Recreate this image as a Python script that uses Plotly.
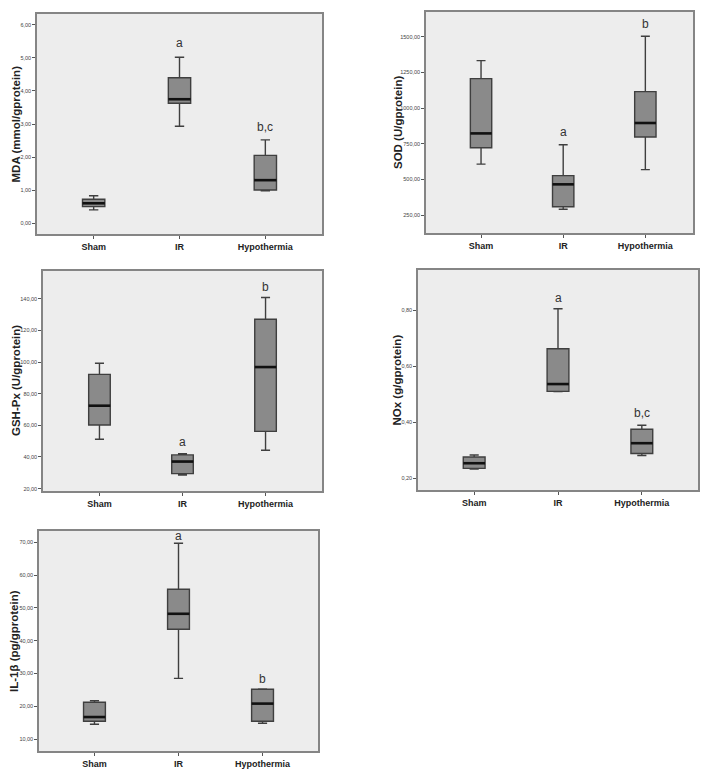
import plotly.graph_objects as go

# page body has an 8px margin; the figure is sized/offset to fit the 714x772 window
PAGE_W, PAGE_H = 714, 772
OFF = 8
W, H = PAGE_W - 2 * OFF, 762

categories = ["Sham", "IR", "Hypothermia"]

# ---- data ----
mda_low = [0.40, 2.93, 0.98]
mda_q1 = [0.50, 3.63, 1.00]
mda_med = [0.60, 3.75, 1.30]
mda_q3 = [0.72, 4.40, 2.05]
mda_high = [0.83, 5.02, 2.52]
mda_letters = ["", "a", "b,c"]
mda_letter_y = [None, 5.45, 2.90]

sod_low = [607, 290, 568]
sod_q1 = [722, 308, 797]
sod_med = [822, 465, 895]
sod_q3 = [1206, 526, 1115]
sod_high = [1332, 743, 1503]
sod_letters = ["", "a", "b"]
sod_letter_y = [None, 830, 1590]

gsh_low = [51.2, 28.6, 44.2]
gsh_q1 = [60.2, 29.5, 56.2]
gsh_med = [72.4, 37.1, 96.8]
gsh_q3 = [92.2, 41.3, 127.0]
gsh_high = [99.2, 42.1, 140.8]
gsh_letters = ["", "a", "b"]
gsh_letter_y = [None, 49.7, 147.6]

nox_low = [0.233, 0.509, 0.281]
nox_q1 = [0.235, 0.510, 0.288]
nox_med = [0.2535, 0.536, 0.325]
nox_q3 = [0.276, 0.662, 0.375]
nox_high = [0.283, 0.805, 0.389]
nox_letters = ["", "a", "b,c"]
nox_letter_y = [None, 0.844, 0.432]

il_low = [14.5, 28.5, 14.8]
il_q1 = [15.4, 43.5, 15.4]
il_med = [16.7, 48.2, 20.8]
il_q3 = [21.2, 55.7, 25.2]
il_high = [21.7, 69.7, 25.3]
il_letters = ["", "a", "b"]
il_letter_y = [None, 72.0, 28.2]

mda_ticks = [0, 1, 2, 3, 4, 5, 6]
mda_ticktext = ["0,00", "1,00", "2,00", "3,00", "4,00", "5,00", "6,00"]
sod_ticks = [250, 500, 750, 1000, 1250, 1500]
sod_ticktext = ["250,00", "500,00", "750,00", "1000,00", "1250,00", "1500,00"]
gsh_ticks = [20, 40, 60, 80, 100, 120, 140]
gsh_ticktext = ["20,00", "40,00", "60,00", "80,00", "100,00", "120,00", "140,00"]
nox_ticks = [0.2, 0.4, 0.6, 0.8]
nox_ticktext = ["0,20", "0,40", "0,60", "0,80"]
il_ticks = [10, 20, 30, 40, 50, 60, 70]
il_ticktext = ["10,00", "20,00", "30,00", "40,00", "50,00", "60,00", "70,00"]

panels = [
    dict(title="MDA (mmol/gprotein)", low=mda_low, q1=mda_q1, med=mda_med, q3=mda_q3, high=mda_high,
         letters=mda_letters, ly=mda_letter_y, ticks=mda_ticks, ticktext=mda_ticktext,
         yr=[-0.33, 6.33], px=(37, 322), py=(14, 234), tx=15.5, xr=[-0.66, 2.66]),
    dict(title="SOD (U/gprotein)", low=sod_low, q1=sod_q1, med=sod_med, q3=sod_q3, high=sod_high,
         letters=sod_letters, ly=sod_letter_y, ticks=sod_ticks, ticktext=sod_ticktext,
         yr=[124, 1673], px=(426, 693), py=(12, 233), tx=397.5, xr=[-0.67, 2.58]),
    dict(title="GSH-Px (U/gprotein)", low=gsh_low, q1=gsh_q1, med=gsh_med, q3=gsh_q3, high=gsh_high,
         letters=gsh_letters, ly=gsh_letter_y, ticks=gsh_ticks, ticktext=gsh_ticktext,
         yr=[18.5, 157.5], px=(43, 322), py=(271, 491), tx=16, xr=[-0.68, 2.68]),
    dict(title="NOx (g/gprotein)", low=nox_low, q1=nox_q1, med=nox_med, q3=nox_q3, high=nox_high,
         letters=nox_letters, ly=nox_letter_y, ticks=nox_ticks, ticktext=nox_ticktext,
         yr=[0.158, 0.943], px=(418, 698), py=(270, 490), tx=396.5, xr=[-0.67, 2.67]),
    dict(title="IL-1β (pg/gprotein)", low=il_low, q1=il_q1, med=il_med, q3=il_q3, high=il_high,
         letters=il_letters, ly=il_letter_y, ticks=il_ticks, ticktext=il_ticktext,
         yr=[6.34, 73.46], px=(39, 318), py=(531, 751), tx=14, xr=[-0.66, 2.66]),
]

BOXW = 0.26
FONT = "Arial, Liberation Sans, sans-serif"
NARROW = "Liberation Sans Narrow, Arial Narrow, Liberation Sans, sans-serif"
fig = go.Figure()
annotations = []
layout_axes = {}
pos = list(range(len(categories)))


def fx(v):
    return (v - OFF) / W


def fy(v):
    return 1 - (v - OFF) / H


for k, p in enumerate(panels):
    n = "" if k == 0 else str(k + 1)
    xa, ya = "x" + n, "y" + n
    fig.add_trace(go.Box(
        x=pos, q1=p["q1"], median=p["med"], q3=p["q3"],
        lowerfence=p["low"], upperfence=p["high"], width=BOXW,
        whiskerwidth=0.42,
        fillcolor="#8a8a8a", line=dict(color="#3f3f3f", width=1.4),
        boxpoints=False, hoverinfo="skip", showlegend=False,
        xaxis=xa, yaxis=ya,
    ))
    mx, my = [], []
    for i, m in zip(pos, p["med"]):
        mx += [i - BOXW / 2, i + BOXW / 2, None]
        my += [m, m, None]
    fig.add_trace(go.Scatter(x=mx, y=my, mode="lines", line=dict(color="#111111", width=2.6),
                             hoverinfo="skip", showlegend=False, xaxis=xa, yaxis=ya))
    x0, x1 = p["px"]
    y0, y1 = p["py"]
    layout_axes["xaxis" + n] = dict(
        domain=[fx(x0), fx(x1)], anchor=ya, range=p["xr"],
        tickvals=pos, ticktext=["<b>%s</b>" % c for c in categories],
        ticks="outside", ticklen=3, tickcolor="#555",
        tickfont=dict(family=FONT, size=9, color="#222"),
        showline=True, mirror=True, linecolor="#858585", linewidth=1.5,
        showgrid=False, zeroline=False, fixedrange=True,
    )
    layout_axes["yaxis" + n] = dict(
        domain=[fy(y1), fy(y0)], anchor=xa, range=p["yr"],
        tickvals=p["ticks"], ticktext=p["ticktext"], ticks="outside", ticklen=3, tickcolor="#555",
        tickfont=dict(family=NARROW, size=5.5, color="#444"),
        showline=True, mirror=True, linecolor="#858585", linewidth=1.5,
        showgrid=False, zeroline=False, fixedrange=True,
    )
    annotations.append(dict(
        text="<b>%s</b>" % p["title"], textangle=-90, xref="paper", yref="paper",
        x=fx(p["tx"]), y=fy((y0 + y1) / 2), showarrow=False,
        font=dict(family=FONT, size=11.5, color="#222"), xanchor="center", yanchor="middle",
    ))
    for i, (t, yv) in enumerate(zip(p["letters"], p["ly"])):
        if t:
            annotations.append(dict(
                text=t, x=i, y=yv, xref=xa, yref=ya, showarrow=False,
                font=dict(family=FONT, size=12, color="#333"),
            ))

fig.update_layout(
    width=W, height=H, margin=dict(l=0, r=0, t=0, b=0),
    paper_bgcolor="white", plot_bgcolor="#ededed",
    annotations=annotations, **layout_axes,
)
fig.write_html("out.html")
